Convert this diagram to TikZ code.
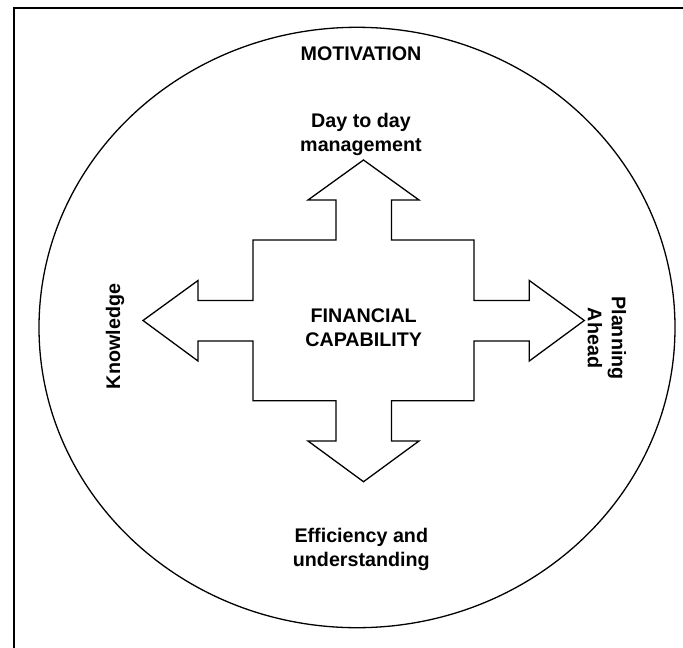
\documentclass[tikz,border=0pt]{standalone}
\usepackage{fontspec}
\setmainfont{Liberation Sans}
\begin{document}
\begin{tikzpicture}[x=1pt,y=-1pt,
  lbl/.style={font=\fontsize{19.7}{24}\selectfont\bfseries, align=center, inner sep=0pt},
  shapeline/.style={draw=black, line width=1.3pt, line join=miter},
]
\useasboundingbox (0,0) rectangle (683,648);
% frame (only top and left edges are visible)
\draw[line width=2pt] (13.7,648) -- (13.7,8) -- (683,8);
% motivation ellipse
\draw[shapeline] (357,327.5) ellipse [x radius=318, y radius=300.2];
% four-way arrow
\draw[shapeline, fill=white]
  (363.5,160) -- (419,200) -- (391.5,200) -- (391.5,240) -- (474,240) -- (474,300.5)
  -- (529.3,300.5) -- (529.3,280.5) -- (584.3,320.5) -- (529.3,361) -- (529.3,341)
  -- (474,341) -- (474,400.7) -- (391.5,400.7) -- (391.5,441) -- (419,441)
  -- (363.5,481.7) -- (308,441) -- (336,441) -- (336,400.7) -- (253,400.7)
  -- (253,341) -- (198,341) -- (198,361) -- (143,320.5) -- (198,280.5)
  -- (198,300.5) -- (253,300.5) -- (253,240) -- (336,240) -- (336,200)
  -- (308,200) -- cycle;
% labels
\node[lbl] (motivation) at (361,54) {MOTIVATION};
\node[lbl] (daytoday) at (361,134) {Day to day\\management};
\node[lbl] (fincap) at (363.7,327.5) {FINANCIAL\\CAPABILITY};
\node[lbl] (efficiency) at (361.3,549) {Efficiency and\\understanding};
\node[lbl, rotate=90] (knowledge) at (115,336.5) {Knowledge};
\node[lbl, rotate=-90] (planning) at (607,338) {Planning\\Ahead};
\end{tikzpicture}
\end{document}
